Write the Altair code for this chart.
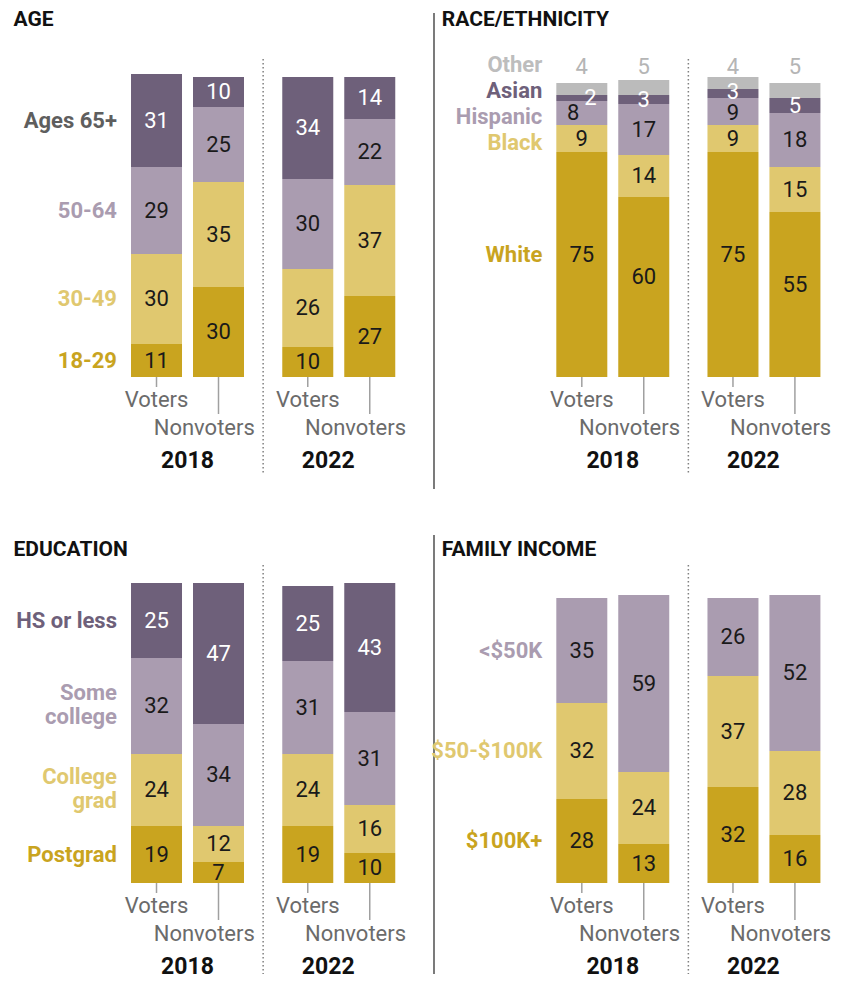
import altair as alt
import pandas as pd

# ---------------- data ----------------
GROUPS = ["Voters", "Nonvoters"]
YEARS = ["2018", "2022"]

AGE_CATS = ["18-29", "30-49", "50-64", "Ages 65+"]          # bottom -> top
AGE_V2018 = [11, 30, 29, 31]
AGE_N2018 = [30, 35, 25, 10]
AGE_V2022 = [10, 26, 30, 34]
AGE_N2022 = [27, 37, 22, 14]

RACE_CATS = ["White", "Black", "Hispanic", "Asian", "Other"]
RACE_V2018 = [75, 9, 8, 2, 4]
RACE_N2018 = [60, 14, 17, 3, 5]
RACE_V2022 = [75, 9, 9, 3, 4]
RACE_N2022 = [55, 15, 18, 5, 5]

EDU_CATS = ["Postgrad", "College grad", "Some college", "HS or less"]
EDU_V2018 = [19, 24, 32, 25]
EDU_N2018 = [7, 12, 34, 47]
EDU_V2022 = [19, 24, 31, 25]
EDU_N2022 = [10, 16, 31, 43]

INC_CATS = ["$100K+", "$50-$100K", "<$50K"]
INC_V2018 = [28, 32, 35]
INC_N2018 = [13, 24, 59]
INC_V2022 = [32, 37, 26]
INC_N2022 = [16, 28, 52]

# ---------------- style ----------------
PURPLE_DARK = "#6E607A"
PURPLE_LIGHT = "#AA9CB0"
YELLOW = "#E0C86F"
GOLD = "#C9A41F"
GRAY = "#BBBBBB"
FONT = "Roboto"

PX = 3.0          # pixels per percentage point
UNIT = 63.5       # pixels per column step
YEAR_SHIFT = 2.44 # column steps between the two years
BAR_W = 51
LABEL_GAP = 15    # px between category labels and first bar
LINE_H = 24

TOP_ROW = dict(height=480, zero=368, title_top=10.5)
BOTTOM_ROW = dict(height=443, zero=352, title_top=18.5)


def dodge(ys, gap):
    order = sorted(range(len(ys)), key=lambda i: -ys[i])
    clusters = [[i] for i in order]

    def positions(cl):
        mean = sum(ys[i] for i in cl) / len(cl)
        n = len(cl)
        return [mean + (n - 1) / 2 * gap - k * gap for k in range(n)]

    changed = True
    while changed:
        changed = False
        for k in range(len(clusters) - 1):
            a = positions(clusters[k])
            b = positions(clusters[k + 1])
            if a[-1] - b[0] < gap - 1e-9:
                clusters[k] = clusters[k] + clusters[k + 1]
                del clusters[k + 1]
                changed = True
                break
    out = [0.0] * len(ys)
    for cl in clusters:
        for i, p in zip(cl, positions(cl)):
            out[i] = p
    return out


def place_inside(labels):
    """Very close neighbours are split sideways, the rest dodged vertically."""
    labels = sorted(labels, key=lambda d: -d["y"])
    skip = set()
    for k in range(len(labels) - 1):
        if labels[k]["y"] - labels[k + 1]["y"] < 5.5 and k not in skip:
            labels[k]["x"] += 0.14
            labels[k + 1]["x"] -= 0.14
            skip.add(k)
    rest = [d for k, d in enumerate(labels) if k not in skip]
    for d, p in zip(rest, dodge([d["y"] for d in rest], 7.3)):
        d["y"] = p
    return labels


def panel(title, cats, series, fills, label_colors, width, row, left_px, title_px,
          above_cat=None, nudges=None, display=None, separator=False):
    nudges = nudges or {}
    display = display or {}
    h, z = row["height"], row["zero"]
    ymin, ymax = -(h - z) / PX, z / PX
    xmin, xmax = -left_px / UNIT, (width - left_px) / UNIT
    xs = alt.Scale(domain=[xmin, xmax], nice=False, zero=False)
    ys = alt.Scale(domain=[ymin, ymax], nice=False, zero=False)

    bars, nums, ticks, glabels, ylabels = [], [], [], [], []
    totals = [sum(series[(y, g)]) for y in YEARS for g in GROUPS]
    above_row = max(totals) + 3.5
    for yi, year in enumerate(YEARS):
        ylabels.append(dict(x=yi * YEAR_SHIFT + 0.5 - 0.17 * yi, y=-28, text=year))
        for gi, grp in enumerate(GROUPS):
            pos = yi * YEAR_SHIFT + gi
            vals = series[(year, grp)]
            cum = 0
            inside = []
            for ci, (cat, v) in enumerate(zip(cats, vals)):
                bars.append(dict(pos=pos, value=v, idx=ci, fill=fills[ci]))
                mid = cum + v / 2 + nudges.get(cat, 0)
                if cat == above_cat:
                    nums.append(dict(x=pos, y=above_row, text=str(v), tcolor="#B5B5B5"))
                else:
                    tc = "#FFFFFF" if fills[ci] == PURPLE_DARK else "#1A1A1A"
                    inside.append(dict(x=pos, y=mid, text=str(v), tcolor=tc))
                cum += v
            nums.extend(place_inside(inside))
            ticks.append(dict(x=pos, y0=0, y1=-3.33 if gi == 0 else -12.33))
            glabels.append(dict(x=pos - (0.23 if gi else 0), y=-7.67 if gi == 0 else -17, text=grp))

    # category labels beside first bar
    first = series[(YEARS[0], GROUPS[0])]
    desired, cum = [], 0
    for cat, v in zip(cats, first):
        if cat == above_cat:
            desired.append(above_row)
        else:
            desired.append(cum + v / 2 + nudges.get(cat, 0))
        cum += v
    placed = dodge(desired, 8.7)
    texts = [display.get(c, c) for c in cats]
    # Vega puts the first line at y; lift multi-line labels so the block is centred
    placed = [p + (t.count("\n")) * (LINE_H / 2 + 1) / PX for p, t in zip(placed, texts)]
    cat_df = pd.DataFrame(dict(
        x=[-(BAR_W / 2 + LABEL_GAP) / UNIT] * len(cats), y=placed,
        text=texts, lcolor=label_colors))

    X = lambda f: alt.X(f, scale=xs, axis=None)
    Y = lambda f: alt.Y(f, scale=ys, axis=None)

    bar_layer = alt.Chart(pd.DataFrame(bars)).transform_stack(
        stack="value", groupby=["pos"], sort=[alt.SortField("idx", order="ascending")],
        as_=["y0", "y1"]
    ).mark_bar(size=BAR_W).encode(
        x=X("pos:Q"), y=Y("y0:Q"), y2="y1:Q", color=alt.Color("fill:N", scale=None))

    num_layer = alt.Chart(pd.DataFrame(nums)).mark_text(
        font=FONT, fontSize=22, baseline="middle", align="center").encode(
        x=X("x:Q"), y=Y("y:Q"), text="text:N", color=alt.Color("tcolor:N", scale=None))

    cat_layer = alt.Chart(cat_df).mark_text(
        font=FONT, fontSize=22, fontWeight="bold", baseline="middle", align="right",
        lineBreak="\n", lineHeight=LINE_H).encode(
        x=X("x:Q"), y=Y("y:Q"), text="text:N", color=alt.Color("lcolor:N", scale=None))

    tick_layer = alt.Chart(pd.DataFrame(ticks)).mark_rule(color="#A0A0A0", strokeWidth=1.5).encode(
        x=X("x:Q"), y=Y("y0:Q"), y2="y1:Q")

    glab_layer = alt.Chart(pd.DataFrame(glabels)).mark_text(
        font=FONT, fontSize=22, color="#6B6B6B", baseline="middle", align="center").encode(
        x=X("x:Q"), y=Y("y:Q"), text="text:N")

    ylab_layer = alt.Chart(pd.DataFrame(ylabels)).mark_text(
        font=FONT, fontSize=23, fontWeight="bold", color="#111111", baseline="middle",
        align="center").encode(x=X("x:Q"), y=Y("y:Q"), text="text:N")

    div_df = pd.DataFrame([dict(x=(1 + YEAR_SHIFT) / 2, y0=106, y1=max(-32, ymin))])
    div_layer = alt.Chart(div_df).mark_rule(
        color="#808080", strokeWidth=1.5, strokeDash=[1.5, 2.5]).encode(
        x=X("x:Q"), y=Y("y0:Q"), y2="y1:Q")

    title_df = pd.DataFrame([dict(x=xmin + title_px / UNIT, y=ymax - row["title_top"] / PX, text=title)])
    title_layer = alt.Chart(title_df).mark_text(
        font=FONT, fontSize=21, fontWeight="bold", color="#111111", baseline="middle",
        align="left").encode(x=X("x:Q"), y=Y("y:Q"), text="text:N")

    layers = [div_layer, bar_layer, num_layer, cat_layer, tick_layer, glab_layer,
              ylab_layer, title_layer]
    if separator:
        sep_df = pd.DataFrame([dict(x=xmin, y0=ymax - 4 / PX, y1=ymin)])
        layers.insert(0, alt.Chart(sep_df).mark_rule(color="#222222", strokeWidth=1.2).encode(
            x=X("x:Q"), y=Y("y0:Q"), y2="y1:Q"))
    return alt.layer(*layers).properties(width=width, height=h)


def series_of(v18, n18, v22, n22):
    return {("2018", "Voters"): v18, ("2018", "Nonvoters"): n18,
            ("2022", "Voters"): v22, ("2022", "Nonvoters"): n22}


LEFT_W, RIGHT_W = 421, 410

age = panel("AGE", AGE_CATS, series_of(AGE_V2018, AGE_N2018, AGE_V2022, AGE_N2022),
            [GOLD, YELLOW, PURPLE_LIGHT, PURPLE_DARK],
            [GOLD, YELLOW, PURPLE_LIGHT, "#5E5E5E"],
            LEFT_W, TOP_ROW, 147, 0.5)

race = panel("RACE/ETHNICITY", RACE_CATS,
             series_of(RACE_V2018, RACE_N2018, RACE_V2022, RACE_N2022),
             [GOLD, YELLOW, PURPLE_LIGHT, PURPLE_DARK, GRAY],
             [GOLD, YELLOW, PURPLE_LIGHT, PURPLE_DARK, "#BDBDBD"],
             RIGHT_W, TOP_ROW, 151.5, 8, above_cat="Other", nudges={"White": 3.3},
             separator=True)

edu = panel("EDUCATION", EDU_CATS, series_of(EDU_V2018, EDU_N2018, EDU_V2022, EDU_N2022),
            [GOLD, YELLOW, PURPLE_LIGHT, PURPLE_DARK],
            [GOLD, YELLOW, PURPLE_LIGHT, PURPLE_DARK],
            LEFT_W, BOTTOM_ROW, 147, 0.5,
            display={"Some college": "Some\ncollege", "College grad": "College\ngrad"})

inc = panel("FAMILY INCOME", INC_CATS, series_of(INC_V2018, INC_N2018, INC_V2022, INC_N2022),
            [GOLD, YELLOW, PURPLE_LIGHT],
            [GOLD, YELLOW, PURPLE_LIGHT],
            RIGHT_W, BOTTOM_ROW, 151.5, 8, separator=True)

chart = alt.concat(
    age, race, edu, inc, columns=2,
    spacing=alt.RowColnumber(row=42, column=0), bounds="flush", padding=0,
).configure_view(stroke=None)

chart.save("out.html", embed_options={"renderer": "svg", "actions": False})
